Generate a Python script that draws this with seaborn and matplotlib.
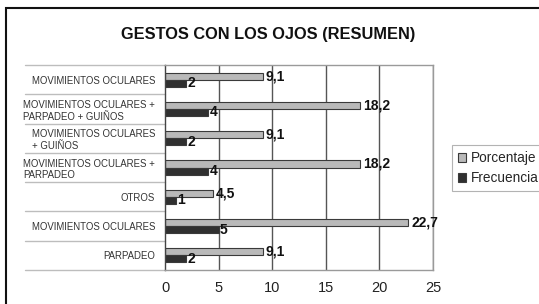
import pandas as pd
import numpy as np
import matplotlib
matplotlib.use("Agg")
import matplotlib.pyplot as plt
import seaborn as sns
from matplotlib.patches import Rectangle

# ---------------------------------------------------------------------------
# DATA
# ---------------------------------------------------------------------------
categorias = [
    "MOVIMIENTOS OCULARES",
    "MOVIMIENTOS OCULARES +\nPARPADEO + GUIÑOS",
    "MOVIMIENTOS OCULARES\n+ GUIÑOS",
    "MOVIMIENTOS OCULARES +\nPARPADEO",
    "OTROS",
    "MOVIMIENTOS OCULARES",
    "PARPADEO",
]
porcentaje = [9.1, 18.2, 9.1, 18.2, 4.5, 22.7, 9.1]
frecuencia = [2, 4, 2, 4, 1, 5, 2]
series = ["Porcentaje", "Frecuencia"]
x_ticks = [0, 5, 10, 15, 20, 25]

ids = [f"c{i}" for i in range(len(categorias))]
df = pd.DataFrame({
    "cat": ids * 2,
    "valor": porcentaje + frecuencia,
    "serie": [series[0]] * len(ids) + [series[1]] * len(ids),
})

# ---------------------------------------------------------------------------
# STYLE
# ---------------------------------------------------------------------------
sns.set_style("white")
plt.rcParams["font.family"] = ["Liberation Sans", "DejaVu Sans"]

fig = plt.figure(figsize=(5.39, 3.04), dpi=100)
ax = fig.add_axes([165 / 539, 1 - 270 / 304, 268 / 539, 205 / 304])

sns.barplot(data=df, y="cat", x="valor", hue="serie", orient="h",
            order=ids, hue_order=series,
            palette=["#b9b9b9", "#303030"], width=0.48,
            edgecolor="#3a3a3a", linewidth=0.8, ax=ax, legend=False)

# value labels
fmt_pct = [f"{v:.1f}".replace(".", ",") for v in porcentaje]
fmt_freq = [str(v) for v in frecuencia]
ax.bar_label(ax.containers[0], labels=fmt_pct, padding=2,
             fontsize=10, fontweight="bold", color="#111111")
ax.bar_label(ax.containers[1], labels=fmt_freq, padding=1,
             fontsize=10, fontweight="bold", color="#111111")

ax.set_xlim(0, 25)
ax.set_ylim(len(ids) - 0.5, -0.5)
ax.set_xticks(x_ticks)
ax.set_xticklabels([str(t) for t in x_ticks], fontsize=10.5, color="#222222")
ax.set_yticks(range(len(ids)))
ax.set_yticklabels(categorias, fontsize=6.9, color="#333333",
                   multialignment="left")
ax.tick_params(axis="x", length=0, pad=8)
ax.tick_params(axis="y", length=0, pad=7)
ax.set_xlabel("")
ax.set_ylabel("")

# vertical gridlines
for t in x_ticks[1:]:
    ax.axvline(t, color="#555555", lw=1.0, zorder=0)

for side in ["top", "bottom", "right"]:
    ax.spines[side].set_color("#9a9a9a")
    ax.spines[side].set_linewidth(1.0)
ax.spines["left"].set_color("#444444")
ax.spines["left"].set_linewidth(1.0)

# separators in label area
tr = ax.get_yaxis_transform()
for b in np.arange(-0.5, len(ids), 1.0):
    ax.plot([-0.522, 0], [b, b], transform=tr, color="#bdbdbd",
            lw=1.0, clip_on=False)

# title
fig.text(268 / 539, 1 - 35 / 304, "GESTOS CON LOS OJOS (RESUMEN)",
         ha="center", va="center", fontsize=11.8, fontweight="bold",
         color="#111111")

# legend
handles = [Rectangle((0, 0), 1, 1, facecolor="#b9b9b9", edgecolor="#3a3a3a", lw=0.8),
           Rectangle((0, 0), 1, 1, facecolor="#303030", edgecolor="#3a3a3a", lw=0.8)]
leg = fig.legend(handles, series, loc="upper left",
                 bbox_to_anchor=(452 / 539, 1 - 145 / 304),
                 fontsize=9.8, frameon=True, fancybox=False,
                 handlelength=0.6, handleheight=0.6, handletextpad=0.3,
                 labelspacing=0.45, borderpad=0.45, borderaxespad=0)
leg.get_frame().set_edgecolor("#a0a0a0")
leg.get_frame().set_linewidth(0.8)

# outer frame (cropped on right and bottom)
fig.patches.append(Rectangle((6 / 539, -0.1), 1.2, 1 - 8 / 304 + 0.1,
                             transform=fig.transFigure, fill=False,
                             edgecolor="#111111", lw=1.5))

plt.savefig("out.png", dpi=100)
plt.close()
